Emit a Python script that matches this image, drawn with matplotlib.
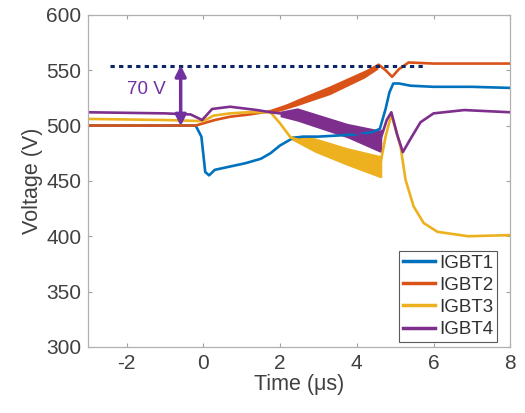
import matplotlib
matplotlib.use('Agg')
import matplotlib.pyplot as plt
import numpy as np

plt.rcParams['font.family'] = ['Liberation Sans', 'DejaVu Sans']
plt.rcParams['axes.unicode_minus'] = False

# traces (time in us, voltage in V)
t1 = [-3, -0.2, -0.05, 0.05, 0.15, 0.3, 0.7, 1.1, 1.5, 1.75, 2.0, 2.2, 2.35, 2.6, 3.0, 3.5, 4.0, 4.4, 4.6, 4.75, 4.85, 4.95, 5.1, 5.4, 6.0, 7.0, 8.0]
v1 = [500, 500, 490, 458, 455, 460, 463, 466, 470, 475, 482, 486, 489, 490, 490, 491, 492, 494, 497, 515, 530, 538, 538, 536, 535, 535, 534]

t2 = [-3, -0.2, 0.0, 0.3, 0.7, 1.2, 1.75, 2.45, 3.3, 3.75, 4.2, 4.57, 4.75, 4.92, 5.1, 5.35, 6.0, 7.0, 8.0]
v2 = [500, 500, 502, 505, 508, 510, 513, 521, 532, 538, 547, 555, 550, 544, 551, 557, 556, 556, 556]

t3 = [-3, -1.0, 0.0, 0.27, 0.7, 1.14, 1.75, 2.0, 2.28, 2.9, 3.75, 4.6, 4.75, 4.9, 5.14, 5.27, 5.48, 5.74, 6.1, 6.9, 8.0]
v3 = [506, 505, 504, 509, 511, 512, 512, 502, 489, 483, 472, 463, 490, 510, 481, 451, 427, 412, 404, 400, 401]

t4 = [-3, -1.0, -0.33, -0.03, 0.23, 0.7, 1.4, 1.75, 2.0, 2.45, 3.1, 3.75, 4.6, 4.78, 4.9, 5.05, 5.2, 5.4, 5.66, 6.0, 6.8, 8.0]
v4 = [512, 511, 510, 505, 515, 517, 514, 512, 511, 510, 503, 496, 486, 505, 512, 492, 476, 488, 503, 511, 514, 512]

# ripple envelopes (lower, upper)
r2_t = [1.8, 2.45, 3.3, 4.2, 4.55]
r2_lo = [511, 518, 528, 543, 551]
r2_hi = [514, 524, 536, 550, 556]
r3_t = [2.25, 2.9, 3.75, 4.6, 4.65]
r3_lo = [488, 476, 464, 453, 453]
r3_hi = [491, 489, 480, 473, 475]
r4_t = [2.0, 2.45, 3.75, 4.6, 4.65]
r4_lo = [508, 504, 489, 476, 476]
r4_hi = [513, 516, 502, 496, 497]

labels = ['IGBT1', 'IGBT2', 'IGBT3', 'IGBT4']
colors = ['#0072BD', '#D95319', '#EDB120', '#7E2F8E']

fig = plt.figure(figsize=(5.25, 4.13), dpi=100)
ax = fig.add_axes([0.168, 0.16, 0.804, 0.804])

for t, v, c, lab in zip([t1, t2, t3, t4], [v1, v2, v3, v4], colors, labels):
    ax.plot(t, v, color=c, lw=1.9, label=lab)
ax.fill_between(r2_t, r2_lo, r2_hi, color=colors[1], lw=0)
ax.fill_between(r3_t, r3_lo, r3_hi, color=colors[2], lw=0)
ax.fill_between(r4_t, r4_lo, r4_hi, color=colors[3], lw=0)

# 70 V annotation
ax.plot([-2.43, 5.79], [554, 554], color='#0b2566', lw=2.2, linestyle=(0, (1.4, 1.4)))
ax.annotate('', xy=(-0.59, 499.5), xytext=(-0.59, 554.5),
            arrowprops=dict(arrowstyle='<|-|>', color='#7030A0', lw=2.5, mutation_scale=16,
                            shrinkA=0, shrinkB=0))
ax.text(-1.48, 533, '70 V', color='#7030A0', fontsize=13.5, ha='center', va='center')

ax.set_xlim(-3, 8)
ax.set_ylim(300, 600)
ax.set_xticks([-2, 0, 2, 4, 6, 8])
ax.set_yticks(range(300, 601, 50))
ax.tick_params(direction='in', length=3, width=0.8, color='#a0a0a0', labelcolor='#404040',
               labelsize=15, top=True, right=True, pad=5)
for s in ax.spines.values():
    s.set_color('#b0b0b0')
    s.set_linewidth(0.9)
ax.set_xlabel('Time (\u03bcs)', fontsize=15.5, color='#404040', labelpad=1)
ax.set_ylabel('Voltage (V)', fontsize=15.5, color='#404040', labelpad=2)

leg = ax.legend(loc='lower right', bbox_to_anchor=(0.969, 0.015), fontsize=13.5, frameon=True,
                fancybox=False, borderaxespad=0, handlelength=1.75, handletextpad=0.2,
                borderpad=0.2, labelspacing=0.27)
leg.get_frame().set_edgecolor('#303030')
leg.get_frame().set_linewidth(0.8)
for txt in leg.get_texts():
    txt.set_color('#303030')
for h in leg.get_lines():
    h.set_linewidth(2.5)

fig.savefig('out.png', dpi=100)
